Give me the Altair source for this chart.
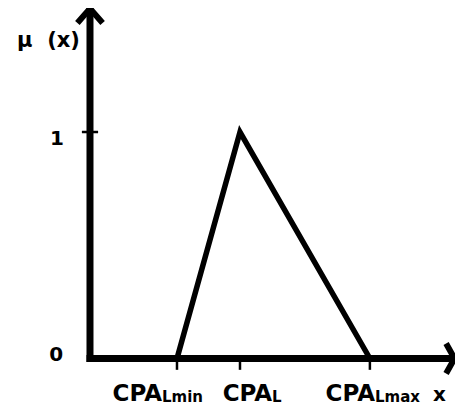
import altair as alt
import pandas as pd

# ---- data ----
categories = ["CPA_Lmin", "CPA_L", "CPA_Lmax"]
cpa_x = [2.9, 5.0, 9.33]          # positions on the x axis
mu_vals = [0, 1, 0]               # membership at those points
main_text = ["CPA", "CPA", "CPA"]
sub_text = ["Lmin", "L", "Lmax"]
y_ticks = [1]
y_tick_labels = ["0", "1"]

# axis extents (data units)
x_end = 12.15
y_end = 1.545

# label anchors (where "CPA" ends and the subscript starts)
label_join = [2.4, 6.07, 9.5]
label_base = -0.1876

X_DOMAIN = [-2.733, 12.167]
Y_DOMAIN = [-0.2097, 1.5475]

xs = alt.Scale(domain=X_DOMAIN, nice=False, zero=False)
ys = alt.Scale(domain=Y_DOMAIN, nice=False, zero=False)

def X(f="x"):
    return alt.X(f"{f}:Q", scale=xs, axis=None)

def Y(f="y"):
    return alt.Y(f"{f}:Q", scale=ys, axis=None)

tri = pd.DataFrame({"x": cpa_x, "y": mu_vals, "o": range(3)})
triangle = alt.Chart(tri).mark_line(color="black", strokeWidth=5.5, strokeJoin="miter",
                                    strokeCap="butt", clip=False).encode(
    x=X(), y=Y(), order="o:Q")

axes_df = pd.DataFrame({"x": [0, 0], "y": [0, 0], "x2": [x_end - 0.1, 0], "y2": [0, y_end]})
axes = alt.Chart(axes_df).mark_rule(color="black", strokeWidth=7, strokeCap="square").encode(
    x=X(), y=Y(), x2="x2:Q", y2="y2:Q")

arrow_df = pd.DataFrame({
    "x": [-0.42, 0, 0.42, x_end - 0.28, x_end, x_end - 0.28],
    "y": [1.481, y_end, 1.481, 0.066, 0, -0.066],
    "a": ["y", "y", "y", "x", "x", "x"],
    "o": [0, 1, 2, 0, 1, 2],
})
arrows = alt.Chart(arrow_df).mark_line(color="black", strokeWidth=6, strokeJoin="miter",
                                       strokeCap="butt", clip=False).encode(
    x=X(), y=Y(), detail="a:N", order="o:Q")

xt = pd.DataFrame({"x": cpa_x, "y": [0] * 3, "y2": [-0.05] * 3})
xticks = alt.Chart(xt).mark_rule(color="black", strokeWidth=2.5).encode(
    x=X(), y=Y(), y2="y2:Q")

yt = pd.DataFrame({"x": [-0.27], "x2": [0.27], "y": y_ticks})
yticks = alt.Chart(yt).mark_rule(color="black", strokeWidth=2.5).encode(
    x=X(), x2="x2:Q", y=Y())

font = "DejaVu Sans"

lab = pd.DataFrame({"x": label_join, "y": [label_base] * 3, "main": main_text, "sub": sub_text})
main_lbl = alt.Chart(lab).mark_text(font=font, fontWeight="bold", fontSize=23, align="right",
                                    baseline="alphabetic", color="black").encode(
    x=X(), y=Y(), text="main:N")
sub_lbl = alt.Chart(lab).mark_text(font=font, fontWeight="bold", fontSize=15, align="left",
                                   baseline="alphabetic", color="black", dy=1).encode(
    x=X(), y=Y(), text="sub:N")

xlab = alt.Chart(pd.DataFrame({"x": [11.43], "y": [label_base], "t": ["x"]})).mark_text(
    font=font, fontWeight="bold", fontSize=20, align="left", baseline="alphabetic",
    color="black").encode(x=X(), y=Y(), text="t:N")

ylab = alt.Chart(pd.DataFrame({"x": [-1.13, -1.1], "y": [0.016, 0.969], "t": y_tick_labels})).mark_text(
    font=font, fontWeight="bold", fontSize=20, align="center", baseline="middle",
    color="black").encode(x=X(), y=Y(), text="t:N")

mulab = alt.Chart(pd.DataFrame({"x": [-2.43], "y": [1.375], "t": ["μ\u00a0\u00a0(x)"]})).mark_text(
    font=font, fontWeight="bold", fontSize=21, align="left", baseline="alphabetic",
    color="black").encode(x=X(), y=Y(), text="t:N")

chart = alt.layer(axes, arrows, xticks, yticks, triangle, main_lbl, sub_lbl, xlab, ylab, mulab).properties(
    width=447, height=398, padding=0, autosize=alt.AutoSizeParams(type="none"),
    background="white"
).configure_view(stroke=None)

chart.save("out.html", embed_options={"renderer": "svg", "actions": False})
